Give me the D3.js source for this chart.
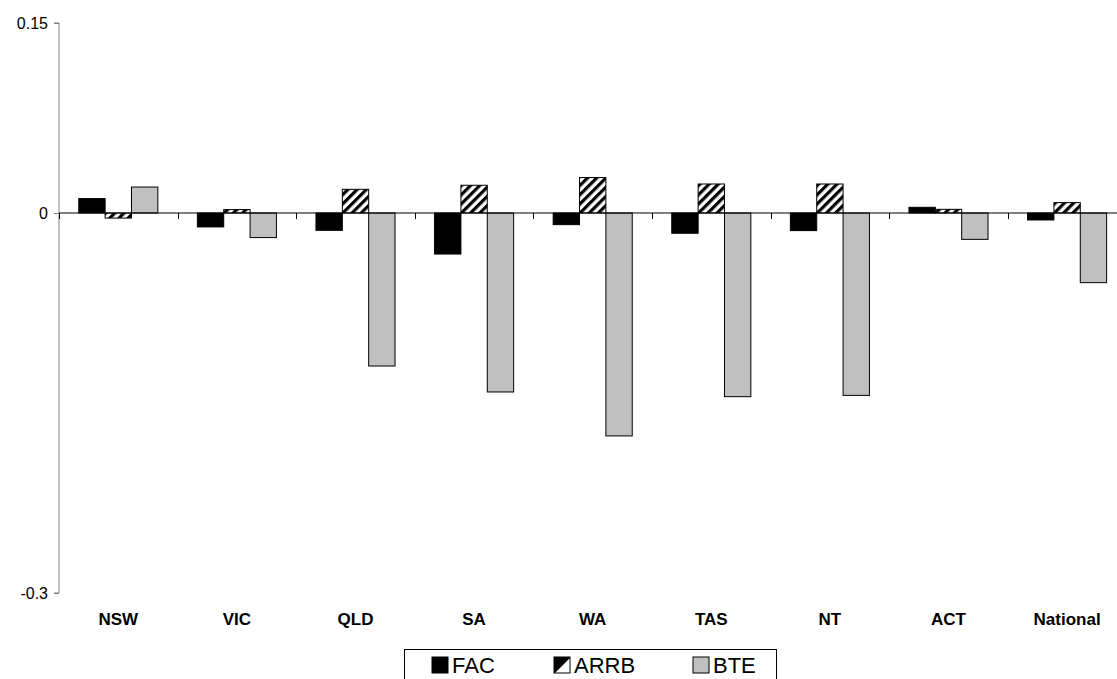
<!DOCTYPE html>
<html>
<head>
<meta charset="utf-8">
<script src="https://cdn.jsdelivr.net/npm/d3@7"></script>
<style>
  html, body { margin: 0; padding: 0; background: #fff; }
  svg { display: block; font-family: "Liberation Sans", Arial, sans-serif; }
</style>
</head>
<body>
<svg id="chart" width="1117" height="679"></svg>
<script>
// Jurisdictions along the x axis
const categories = ["NSW", "VIC", "QLD", "SA", "WA", "TAS", "NT", "ACT", "National"];
// One value per jurisdiction for each estimate
const seriesNames = ["FAC", "ARRB", "BTE"];
const facValues  = [0.0114, -0.0110, -0.0137, -0.0324, -0.0092, -0.0160, -0.0139, 0.0045, -0.0055];
const arrbValues = [-0.0040, 0.0027, 0.0187, 0.0219, 0.0280, 0.0229, 0.0229, 0.0029, 0.0082];
const bteValues  = [0.0205, -0.0194, -0.1208, -0.1413, -0.1760, -0.1450, -0.1440, -0.0208, -0.0550];
const yTicks = [0.15, 0, -0.3];
const yTickLabels = ["0.15", "0", "-0.3"];

const svg = d3.select("#chart");

const plot = { left: 59, top: 23, bottom: 593, band: 118.6 };

const x0 = d3.scaleBand()
  .domain(categories)
  .range([plot.left, plot.left + plot.band * categories.length])
  .padding(0);

const x1 = d3.scaleBand()
  .domain(seriesNames)
  .range([x0.bandwidth() / 6, x0.bandwidth() * 5 / 6])
  .padding(0);

const y = d3.scaleLinear().domain([-0.3, 0.15]).range([plot.bottom, plot.top]);

// Diagonal hatch fill
const defs = svg.append("defs");
const pat = defs.append("pattern")
  .attr("id", "hatch")
  .attr("patternUnits", "userSpaceOnUse")
  .attr("width", 6.5).attr("height", 6.5)
  .attr("patternTransform", "rotate(45)");
pat.append("rect").attr("width", 6.5).attr("height", 6.5).attr("fill", "#fff");
pat.append("line").attr("x1", 1.6).attr("y1", 0).attr("x2", 1.6).attr("y2", 6.5)
  .attr("stroke", "#000").attr("stroke-width", 3.2);

// Coarser hatch for the small legend key
const patL = defs.append("pattern")
  .attr("id", "hatchL")
  .attr("patternUnits", "userSpaceOnUse")
  .attr("width", 24).attr("height", 24)
  .attr("patternTransform", "rotate(45)");
patL.append("rect").attr("width", 24).attr("height", 24).attr("fill", "#fff");
patL.append("rect").attr("x", 0).attr("y", 0).attr("width", 12).attr("height", 24).attr("fill", "#000");

const fills = { FAC: "#000000", ARRB: "url(#hatch)", BTE: "#c0c0c0" };
const valuesBySeries = { FAC: facValues, ARRB: arrbValues, BTE: bteValues };

const rows = categories.map((c, i) => ({
  cat: c,
  vals: seriesNames.map(s => ({ s, v: valuesBySeries[s][i] }))
}));

// Bars
const groups = svg.append("g").selectAll("g")
  .data(rows).join("g")
  .attr("transform", d => `translate(${x0(d.cat)},0)`);

groups.selectAll("rect")
  .data(d => d.vals).join("rect")
  .attr("x", d => x1(d.s))
  .attr("width", x1.bandwidth())
  .attr("y", d => y(Math.max(0, d.v)))
  .attr("height", d => Math.abs(y(d.v) - y(0)))
  .attr("fill", d => fills[d.s])
  .attr("stroke", "#000")
  .attr("stroke-width", 1);

// Y axis
const yAxis = d3.axisLeft(y)
  .tickValues(yTicks)
  .tickFormat((d, i) => yTickLabels[i])
  .tickSize(5)
  .tickPadding(6);

const yg = svg.append("g")
  .attr("transform", `translate(${plot.left},0)`)
  .call(yAxis)
  .attr("font-size", null)
  .attr("font-family", null);
yg.select(".domain").attr("stroke", "#808080").attr("d", `M-5,${y(0.15)}H0V${y(-0.3)}H-5`);
yg.selectAll(".tick line").attr("stroke", "#808080");
yg.selectAll(".tick text")
  .style("font-size", "16px")
  .attr("fill", "#000");

// Zero line with category ticks
const xAxis = d3.axisBottom(x0).tickSize(0).tickFormat("");
const xg = svg.append("g")
  .attr("transform", `translate(0,${y(0)})`)
  .call(xAxis);
xg.select(".domain").attr("stroke", "#000").attr("d", `M${plot.left},0H1117`);

svg.append("g").selectAll("line")
  .data(categories)
  .join("line")
  .attr("x1", d => Math.round(x0(d)) + 0.5)
  .attr("x2", d => Math.round(x0(d)) + 0.5)
  .attr("y1", y(0))
  .attr("y2", y(0) + 6)
  .attr("stroke", "#000");

// Category labels at the bottom
svg.append("g").selectAll("text")
  .data(categories)
  .join("text")
  .attr("x", d => x0(d) + x0.bandwidth() / 2)
  .attr("y", 625)
  .attr("text-anchor", "middle")
  .style("font-size", "17px")
  .attr("font-weight", "bold")
  .text(d => d);

// Legend
const legend = svg.append("g");
legend.append("rect")
  .attr("x", 404.5).attr("y", 649.5)
  .attr("width", 372).attr("height", 60)
  .attr("fill", "#fff").attr("stroke", "#000");

const legendX = [432, 554, 693];
const items = legend.selectAll("g.item")
  .data(seriesNames).join("g")
  .attr("class", "item")
  .attr("transform", (d, i) => `translate(${legendX[i]},657)`);

items.append("rect")
  .attr("width", 16).attr("height", 16)
  .attr("fill", d => d === "ARRB" ? "url(#hatchL)" : fills[d])
  .attr("stroke", "#000");

items.append("text")
  .attr("x", 20)
  .attr("y", 16)
  .style("font-size", "22px")
  .text(d => d);
</script>
</body>
</html>
